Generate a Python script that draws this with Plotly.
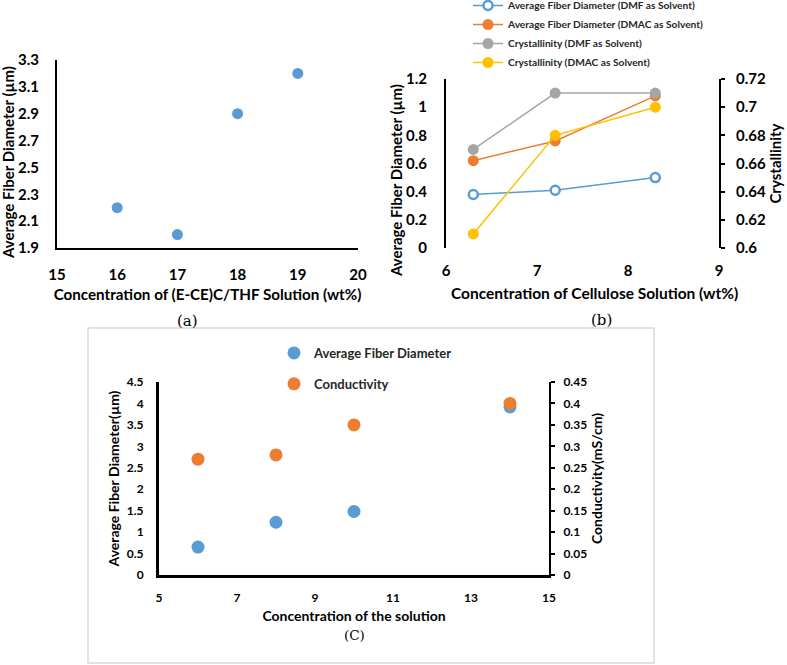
import plotly.graph_objects as go

W, H = 787, 665

# ---------------- data ----------------
# (a)
a_conc = [16, 17, 18, 19]
a_diam = [2.2, 2.0, 2.9, 3.2]

# (b)
b_conc = [6.3, 7.2, 8.3]
b_diam_dmf = [0.38, 0.41, 0.50]
b_diam_dmac = [0.62, 0.76, 1.08]
b_cryst_dmf = [0.67, 0.71, 0.71]
b_cryst_dmac = [0.61, 0.68, 0.70]

# (c)
c_conc = [6, 8, 10, 14]
c_diam = [0.65, 1.23, 1.48, 3.92]
c_cond = [0.27, 0.28, 0.35, 0.40]

BLUE, ORANGE, GRAY, YELLOW = "#5B9BD5", "#ED7D31", "#A5A5A5", "#FFC000"
FONT = "Lato"


def px_x(p):
    return p / W


def px_y(p):
    return 1 - p / H


fig = go.Figure()

# (a)
fig.add_trace(go.Scatter(x=a_conc, y=a_diam, mode="markers", xaxis="x", yaxis="y",
                         marker=dict(size=11, color=BLUE), showlegend=False))

# (b)
fig.add_trace(go.Scatter(x=b_conc, y=b_diam_dmf, mode="lines+markers", xaxis="x2", yaxis="y2",
                         name="Average Fiber Diameter (DMF as Solvent)", legend="legend",
                         line=dict(color=BLUE, width=1.5),
                         marker=dict(size=9, color="white", line=dict(color=BLUE, width=2.5))))
fig.add_trace(go.Scatter(x=b_conc, y=b_diam_dmac, mode="lines+markers", xaxis="x2", yaxis="y2",
                         name="Average Fiber Diameter (DMAC as Solvent)", legend="legend",
                         line=dict(color=ORANGE, width=1.5), marker=dict(size=11, color=ORANGE)))
fig.add_trace(go.Scatter(x=b_conc, y=b_cryst_dmf, mode="lines+markers", xaxis="x2", yaxis="y3",
                         name="Crystallinity (DMF as Solvent)", legend="legend",
                         line=dict(color=GRAY, width=1.5), marker=dict(size=11, color=GRAY)))
fig.add_trace(go.Scatter(x=b_conc, y=b_cryst_dmac, mode="lines+markers", xaxis="x2", yaxis="y3",
                         name="Crystallinity (DMAC as Solvent)", legend="legend",
                         line=dict(color=YELLOW, width=1.5), marker=dict(size=11, color=YELLOW)))

# (c)
fig.add_trace(go.Scatter(x=c_conc, y=c_diam, mode="markers", xaxis="x3", yaxis="y4",
                         name="Average Fiber Diameter", legend="legend2", legendgroup="g1",
                         marker=dict(size=13, color=BLUE)))
fig.add_trace(go.Scatter(x=c_conc, y=c_cond, mode="markers", xaxis="x3", yaxis="y5",
                         name="Conductivity", legend="legend2", legendgroup="g2",
                         marker=dict(size=13, color=ORANGE)))

tickf = dict(family=FONT, size=15, color="black", weight="bold")
tickf_c = dict(family=FONT, size=12, color="black", weight="bold")
titf_a = dict(family=FONT, size=15.2, color="black", weight="bold")
titf = dict(family=FONT, size=15.5, color="black", weight="bold")
titf_y = dict(family=FONT, size=15, color="black", weight="bold")
titf_c = dict(family=FONT, size=14, color="black", weight="bold")
capf = dict(family="DejaVu Serif", size=15, color="black")

common = dict(showgrid=False, zeroline=False, ticks="", linecolor="black", automargin=False)


def label(text, x, y, font, angle=0):
    return dict(text=text, x=px_x(x), y=px_y(y), xref="paper", yref="paper", showarrow=False,
                xanchor="center", yanchor="middle", textangle=angle, font=font)


fig.update_layout(
    width=W, height=H,
    margin=dict(l=0, r=0, t=0, b=0, autoexpand=False),
    paper_bgcolor="white", plot_bgcolor="rgba(0,0,0,0)",
    # ---- (a)
    xaxis=dict(domain=[px_x(57), px_x(358)], range=[15, 20], dtick=1, anchor="y",
               showline=True, linewidth=2, tickfont=tickf, ticklabelstandoff=12,
               title=dict(text="Concentration of (E-CE)C/THF Solution (wt%)", font=titf_a, standoff=7),
               **common),
    yaxis=dict(domain=[px_y(248), px_y(60)], range=[1.9, 3.3], tick0=1.9, dtick=0.2, anchor="x",
               showline=True, linewidth=2, tickfont=tickf, ticklabelstandoff=13,
               **common),
    # ---- (b)
    xaxis2=dict(domain=[px_x(446), px_x(719)], range=[6, 9], dtick=1, anchor="y2",
                showline=False, tickfont=tickf, ticklabelstandoff=12,
                **common),
    yaxis2=dict(domain=[px_y(248), px_y(79)], range=[0, 1.2], dtick=0.2, anchor="x2",
                showline=True, linewidth=2, tickfont=tickf, ticklabelstandoff=14,
                **common),
    yaxis3=dict(range=[0.6, 0.72], dtick=0.02, overlaying="y2", side="right", anchor="x2",
                showline=True, linewidth=2, showgrid=False, zeroline=False, automargin=False,
                ticks="outside", ticklen=4, tickwidth=2, tickcolor="black", linecolor="black",
                tickfont=tickf, ticklabelstandoff=8,
                title=dict(text="Crystallinity", font=titf_y, standoff=6)),
    # ---- (c)
    xaxis3=dict(domain=[px_x(159), px_x(549)], range=[5, 15], tick0=5, dtick=2, anchor="y4",
                showline=True, linewidth=3, tickfont=tickf_c, ticklabelstandoff=10,
                title=dict(text="Concentration of the solution", font=titf_c, standoff=7),
                **common),
    yaxis4=dict(domain=[px_y(575), px_y(382)], range=[0, 4.5], dtick=0.5, anchor="x3",
                showline=True, linewidth=3, tickfont=tickf_c, ticklabelstandoff=10,
                title=dict(text="Average Fiber Diameter(µm)", font=titf_c, standoff=4),
                **common),
    yaxis5=dict(range=[0, 0.45], dtick=0.05, overlaying="y4", side="right", anchor="x3",
                showline=True, linewidth=2, showgrid=False, zeroline=False, automargin=False,
                ticks="outside", ticklen=4, tickwidth=2, tickcolor="black", linecolor="black",
                tickfont=tickf_c, ticklabelstandoff=6,
                title=dict(text="Conductivity(mS/cm)", font=titf_c, standoff=6)),
    legend=dict(x=px_x(468), y=1 + 9 / H, xanchor="left", yanchor="top",
                bgcolor="rgba(0,0,0,0)",
                font=dict(family=FONT, size=10.2, color="#262626", weight="bold")),
    legend2=dict(x=px_x(274), y=px_y(338), xanchor="left", yanchor="top",
                 bgcolor="rgba(0,0,0,0)", tracegroupgap=11,
                 font=dict(family=FONT, size=13, color="#262626", weight="bold")),
    shapes=[dict(type="rect", xref="paper", yref="paper",
                 x0=px_x(88), x1=px_x(654), y0=px_y(663), y1=px_y(328),
                 line=dict(color="#D9D9D9", width=1.5), fillcolor="rgba(0,0,0,0)", layer="below")],
    annotations=[
        label("Average Fiber Diameter (µm)", 8, 163, titf_y, -90),
        label("Average Fiber Diameter (µm)", 396, 181, titf_y, -90),
        label("Concentration of Cellulose Solution (wt%)", 594, 293, titf),
        label("(a)", 187, 321, capf),
        label("(b)", 601, 320, capf),
        label("(C)", 354, 635, dict(family="DejaVu Serif", size=13.5, color="black")),
    ],
)

fig.write_html(
    "out.html",
    config={"displayModeBar": False},
    post_script="document.body.style.margin='0';document.body.style.overflow='hidden';",
)
